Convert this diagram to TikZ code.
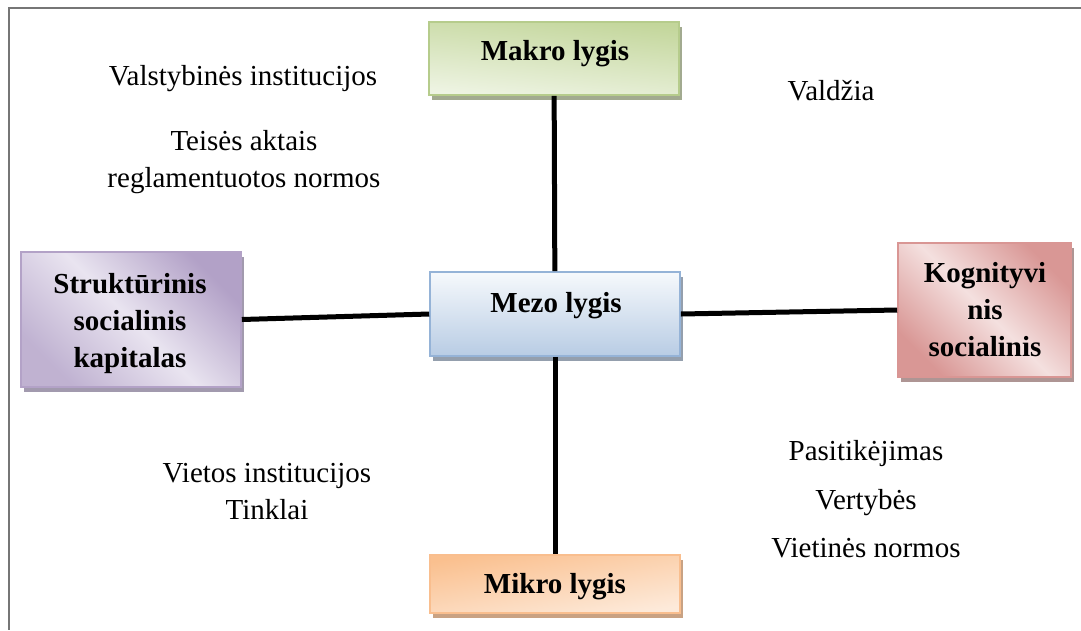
\documentclass[tikz,border=0pt]{standalone}
\usepackage{fontspec}
\setmainfont{Liberation Serif}
\usetikzlibrary{shadows}
\definecolor{frameC}{HTML}{767676}
\definecolor{grnA}{HTML}{C3D69B}\definecolor{grnB}{HTML}{EEF4E3}\definecolor{grnD}{HTML}{B6CC8C}\definecolor{grnS}{HTML}{A2AA90}
\definecolor{bluA}{HTML}{F6F9FC}\definecolor{bluB}{HTML}{B8CCE4}\definecolor{bluD}{HTML}{95B3D7}\definecolor{bluS}{HTML}{949FAD}
\definecolor{orgA}{HTML}{FAC08F}\definecolor{orgB}{HTML}{FDEADA}\definecolor{orgD}{HTML}{F9BE8E}\definecolor{orgS}{HTML}{C9A283}
\definecolor{purA}{HTML}{B2A1C7}\definecolor{purB}{HTML}{E9E4F0}\definecolor{purD}{HTML}{B3A2C7}\definecolor{purS}{HTML}{A29AAE}
\definecolor{redA}{HTML}{D99795}\definecolor{redB}{HTML}{F4E0DF}\definecolor{redD}{HTML}{D99694}\definecolor{redS}{HTML}{AE9594}
\begin{document}
\begin{tikzpicture}[x=1pt,y=-1pt,
  box/.style={rectangle, inner sep=0pt, line width=1.6pt},
  boxtext/.style={inner sep=0pt, font=\fontsize{29}{37}\selectfont\bfseries, align=center},
  plain/.style={inner sep=0pt, font=\fontsize{29}{37}\selectfont, align=center},
  link/.style={line width=5pt, black},
  shd/.style={general shadow={fill=#1, shadow xshift=3pt, shadow yshift=-5pt}}
]
\useasboundingbox (0,0) rectangle (1081,630);
\draw[frameC, line width=1.5pt] (1081,8) -- (9,8) -- (9,630);

% boxes
\node[box, draw=grnD, top color=grnA, bottom color=grnB, shading angle=-6, shd=grnS,
      minimum width=250pt, minimum height=73pt] (makro) at (554,58.5) {};
\node[box, draw=bluD, top color=bluA, bottom color=bluB, shd=bluS,
      minimum width=250pt, minimum height=84pt] (mezo) at (555,314) {};
\node[box, draw=orgD, top color=orgA, bottom color=orgB, shading angle=10, shd=orgS,
      minimum width=250pt, minimum height=58pt] (mikro) at (555,584) {};
\node[box, draw=purD, left color=purA!75!purB, right color=purA, middle color=purB, shading angle=135, shd=purS,
      minimum width=220pt, minimum height=135pt] (strukt) at (131,319.5) {};
\node[box, draw=redD, left color=redA, right color=redA, middle color=redB, shading angle=135, shd=redS,
      minimum width=173pt, minimum height=134pt] (kognit) at (984.5,310) {};

% connectors
\draw[link] (makro) -- (mezo);
\draw[link] (mezo) -- (mikro);
\draw[link] (strukt.east) -- (mezo.west);
\draw[link] (mezo.east) -- (kognit.west);

% box texts
\node[boxtext, anchor=base] (makroT) at (555,60) {Makro lygis};
\node[boxtext, anchor=base] (mezoT) at (556,312) {Mezo lygis};
\node[boxtext, anchor=base] (mikroT) at (555,593) {Mikro lygis};
\node[boxtext, anchor=north] (struktT) at (130,273) {Struktūrinis\\socialinis\\kapitalas};
\node[boxtext, anchor=north] (kognitT) at (985,262) {Kognityvi\\nis\\socialinis};

% free texts
\node[plain, anchor=base] (valst) at (243,85) {Valstybinės institucijos};
\node[plain, anchor=north] (teises) at (244,130.2) {Teisės aktais\\reglamentuotos normos};
\node[plain, anchor=base] (valdzia) at (831,100) {Valdžia};
\node[plain, anchor=north] (vietos) at (267,463.2) {Vietos institucijos\\Tinklai};
\node[plain, anchor=north, font=\fontsize{29}{48.5}\selectfont] (pasit) at (866,440.2) {Pasitikėjimas\\Vertybės\\Vietinės normos};
\end{tikzpicture}
\end{document}
